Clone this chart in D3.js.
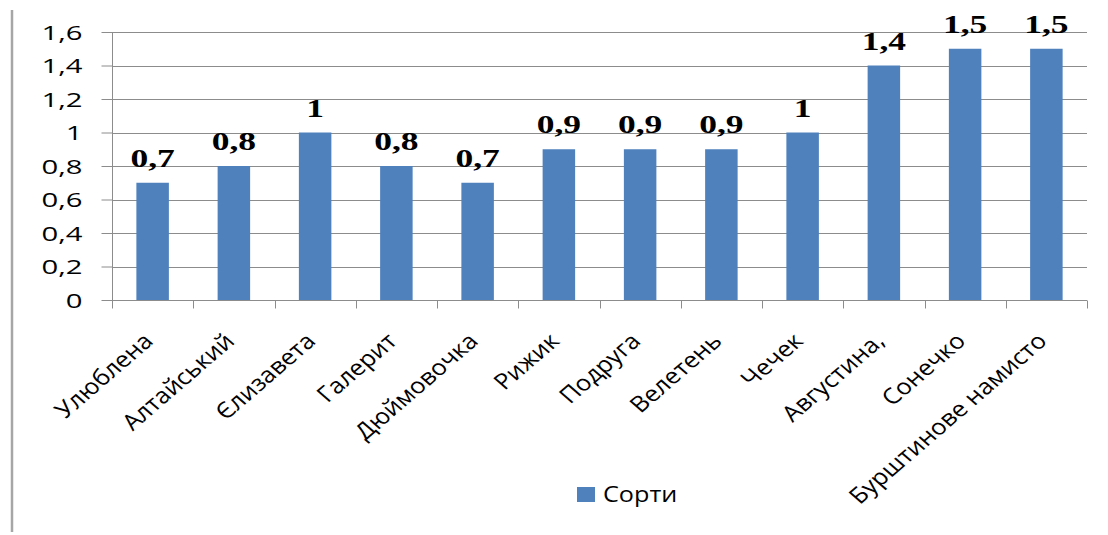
<!DOCTYPE html>
<html><head><meta charset="utf-8">
<script src="https://cdn.jsdelivr.net/npm/d3@7"></script>
<style>body{margin:0;background:#fff}svg{display:block}</style>
</head><body>
<script>
const categories = ["Улюблена","Алтайський","Єлизавета","Галерит","Дюймовочка","Рижик","Подруга","Велетень","Чечек","Августина,","Сонечко","Бурштинове намисто"];
const values = [0.7,0.8,1,0.8,0.7,0.9,0.9,0.9,1,1.4,1.5,1.5];
const yTicks = [0,0.2,0.4,0.6,0.8,1,1.2,1.4,1.6];
const seriesName = "Сорти";

(function(){
const W=1108,H=535;
const svg=d3.select("body").append("svg").attr("width",W).attr("height",H);
svg.append("rect").attr("width",W).attr("height",H).attr("fill","#fff");
// left border line
svg.append("line").attr("x1",12).attr("x2",12).attr("y1",10).attr("y2",532).attr("stroke","#a6a6a6").attr("stroke-width",2.5);

const pl=112,pr=1087,pt=32,pb=300;
const x=d3.scaleBand().domain(categories).range([pl,pr]).paddingInner(0.6).paddingOuter(0.3);
const y=d3.scaleLinear().domain([0,1.6]).range([pb,pt]);
const fmt=d=>String(d).replace(".",",");
const sans="'Open Sans',sans-serif";

// gridlines
svg.append("g").selectAll("line").data(yTicks.slice(1)).join("line")
 .attr("x1",pl).attr("x2",pr).attr("y1",d=>Math.round(y(d))+0.5).attr("y2",d=>Math.round(y(d))+0.5)
 .attr("stroke","#8c8c8c").attr("stroke-width",1);

// y axis
const ya=svg.append("g").attr("transform",`translate(${pl+0.5},0)`)
 .call(d3.axisLeft(y).tickValues(yTicks).tickFormat(fmt).tickSize(11).tickPadding(18));
ya.select(".domain").attr("stroke","#8c8c8c").attr("d",`M0,${pt}V${pb+0.5}`);
ya.selectAll(".tick line").attr("stroke","#8c8c8c");
ya.selectAll(".tick text").attr("x",0).attr("dy","0.36em")
 .attr("transform","translate(-30,0) scale(1.5,1)")
 .attr("font-family",sans).attr("font-size",19.5).attr("fill","#000");

// bars
svg.append("g").selectAll("rect").data(values).join("rect")
 .attr("x",(d,i)=>x(categories[i])).attr("width",x.bandwidth())
 .attr("y",d=>y(d)).attr("height",d=>pb-y(d)).attr("fill","#4f81bd");

// x axis
const step=x.step();
const xa=svg.append("g").attr("transform",`translate(0,${pb+0.5})`);
xa.append("line").attr("x1",pl).attr("x2",pr).attr("stroke","#8c8c8c");
const bounds=d3.range(categories.length+1).map(i=>pl+i*step);
xa.selectAll("line.t").data(bounds).join("line").attr("class","t")
 .attr("x1",d=>Math.round(d)+0.5).attr("x2",d=>Math.round(d)+0.5).attr("y1",0).attr("y2",8).attr("stroke","#8c8c8c");
xa.selectAll("text").data(categories).join("text")
 .attr("transform",d=>`translate(${x(d)+x.bandwidth()/2+2},${42}) scale(1.16,1) rotate(-45)`)
 .attr("text-anchor","end").attr("font-family",sans).attr("font-size",22).attr("fill","#000")
 .text(d=>d);

// data labels
svg.append("g").selectAll("text").data(values).join("text")
 .attr("transform",(d,i)=>`translate(${x(categories[i])+x.bandwidth()/2},${y(d)-16}) scale(1.42,1)`)
 .attr("text-anchor","middle").attr("font-family","'Liberation Serif',serif").attr("font-weight","bold")
 .attr("font-size",25).attr("fill","#000").text(fmt);

// legend
svg.append("rect").attr("x",577).attr("y",487).attr("width",18).attr("height",15).attr("fill","#4f81bd");
svg.append("text").attr("transform","translate(603,502) scale(1.2,1)").attr("font-family",sans).attr("font-size",21).attr("fill","#000").text(seriesName);
})();
</script>
</body></html>
